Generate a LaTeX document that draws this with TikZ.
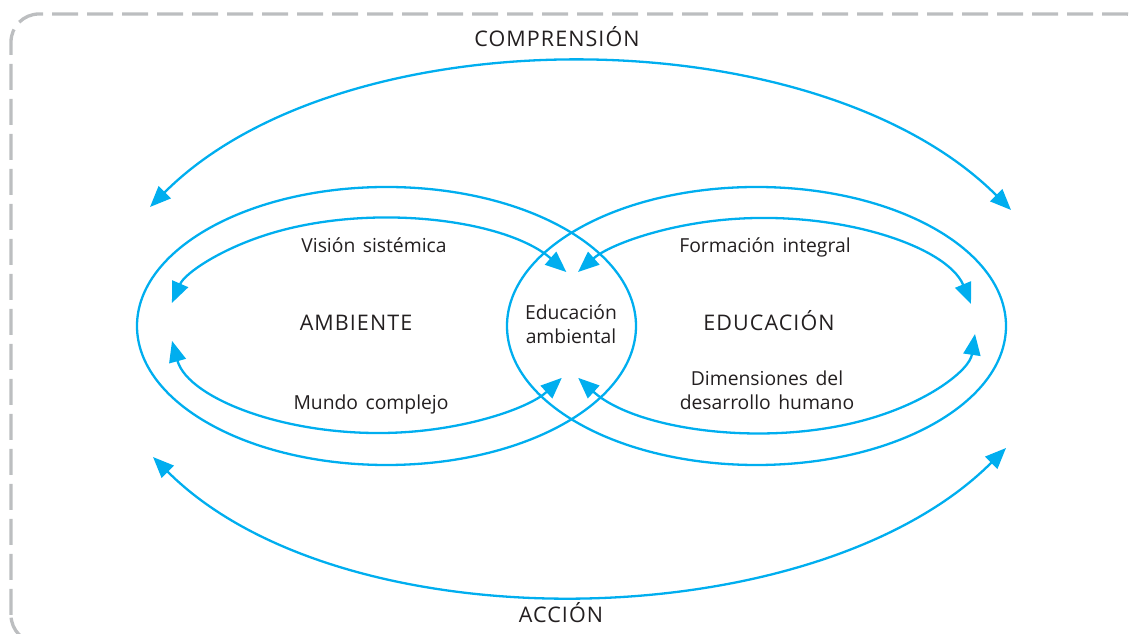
\documentclass[tikz,border=0pt]{standalone}
\usepackage{fontspec}
\setmainfont[WordSpace=1.5]{Open Sans}
\newfontfamily\capfont[LetterSpace=5]{Open Sans}
\usetikzlibrary{arrows.meta}
\definecolor{cyanline}{HTML}{00AEEF}
\definecolor{bordergray}{HTML}{BCBEC0}
\definecolor{txt}{HTML}{231F20}
\begin{document}
\begin{tikzpicture}[x=1pt,y=1pt,
  lbl/.style={text=txt, font=\fontsize{19.3}{24.5}\selectfont, align=center, inner sep=0pt, anchor=base},
  caplbl/.style={text=txt, font=\capfont\fontsize{21.5}{24}\selectfont, inner sep=0pt, anchor=base},
  flow/.style={draw=cyanline, line width=2.3pt, {Triangle[length=21pt,width=17pt]}-{Triangle[length=21pt,width=17pt]}},
  ring/.style={draw=cyanline, line width=2.3pt},
  frame/.style={draw=bordergray, line width=3.3pt, dash pattern=on 26pt off 9pt, rounded corners=28pt}]
\useasboundingbox (0,0) rectangle (1135,634);
% dashed frame
\draw[frame] (11,-9) rectangle (1153,620);
% centres of the two loops
\coordinate (cL) at (386.5,308);
\coordinate (cR) at (756.5,308);
% outer ellipses
\draw[ring] (cL) ellipse [x radius=249.5pt, y radius=139pt];
\draw[ring] (cR) ellipse [x radius=249.5pt, y radius=139pt];
% inner double arrows
\coordinate (iLU) at (381,308);
\coordinate (iLD) at (379,308);
\coordinate (iRU) at (762.5,308);
\coordinate (iRD) at (763.6,308);
\draw[flow] (iLU) ++(30:214pt and 108pt) arc[start angle=30, end angle=167.7, x radius=214pt, y radius=108pt];
\draw[flow] (iLD) ++(188:209pt and 107pt) arc[start angle=188, end angle=331, x radius=209pt, y radius=107pt];
\draw[flow] (iRU) ++(11.8:213pt and 108pt) arc[start angle=11.8, end angle=150, x radius=213pt, y radius=108pt];
\draw[flow] (iRD) ++(209:212pt and 107pt) arc[start angle=209, end angle=355.7, x radius=212pt, y radius=107pt];
% big arcs
\coordinate (compL) at (150,427);
\coordinate (compR) at (1011,424);
\coordinate (accL) at (153,177);
\coordinate (accR) at (1006,186);
\draw[flow] (compL) .. controls (344,621) and (817,618) .. (compR);
\draw[flow] (accL) .. controls (343,-13) and (816,-4) .. (accR);
% labels
\node[caplbl] (comp) at (557,587) {COMPRENSIÓN};
\node[caplbl] (acc) at (561,11) {ACCIÓN};
\node[caplbl] (amb) at (356,303) {AMBIENTE};
\node[caplbl] (edu) at (769,303) {EDUCACIÓN};
\node[lbl] (vis) at (374,381) {Visión sistémica};
\node[lbl] (mun) at (371,224) {Mundo complejo};
\node[lbl] (for) at (765,381) {Formación integral};
\node[lbl] (dim) at (767,224) {Dimensiones del\\desarrollo humano};
\node[lbl] (ea) at (571,290) {Educación\\ambiental};
\end{tikzpicture}
\end{document}
